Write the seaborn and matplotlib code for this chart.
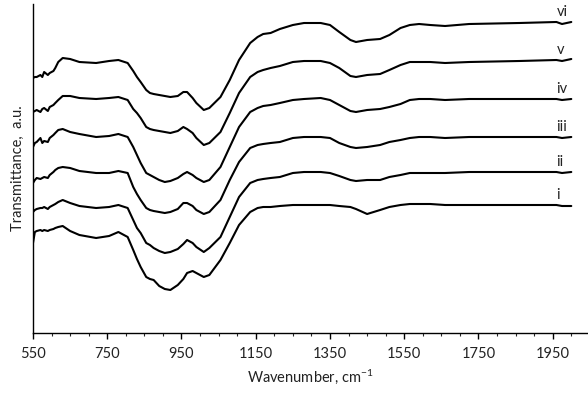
import numpy as np
import pandas as pd
import matplotlib
matplotlib.use("Agg")
import matplotlib.pyplot as plt
from matplotlib.ticker import MultipleLocator
import seaborn as sns

# Wavenumber sampling points (cm-1)
wavenumber = [550, 555, 560, 570, 575, 580, 590, 595, 605, 610,
              618, 630, 650, 675, 720, 755, 780, 805, 820, 830,
              840, 855, 865, 875, 890, 905, 920, 940, 955, 965,
              980, 990, 1010, 1025, 1055, 1080, 1105, 1135, 1155, 1170,
              1190, 1215, 1250, 1280, 1325, 1350, 1375, 1405, 1420, 1450,
              1485, 1510, 1540, 1565, 1590, 1620, 1660, 1725, 1860, 1960,
              1975, 2000]

# Transmittance (a.u., spectra stacked bottom to top)
t_i = [90, 101, 102, 103, 102, 103, 102, 103, 104, 105,
       106, 107, 102, 98, 95, 97, 101, 96, 83, 74,
       66, 56, 54, 53, 47, 44, 43, 48, 54, 60,
       62, 60, 56, 58, 73, 90, 108, 121, 125, 126,
       126, 127, 128, 128, 128, 128, 127, 126, 124, 119,
       123, 126, 128, 129, 129, 129, 128, 128, 128, 128,
       127, 127]
t_ii = [121, 123, 124, 125, 125, 126, 124, 126, 128, 129,
        131, 133, 130, 127, 125, 126, 128, 125, 113, 105,
        100, 90, 88, 85, 82, 80, 81, 84, 89, 93,
        90, 86, 81, 85, 96, 116, 136, 150, 153, 154,
        155, 156, 160, 161, 161, 160, 157, 153, 152, 153,
        153, 156, 158, 160, 160, 160, 160, 161, 161, 161,
        160, 161]
t_iii = [150, 153, 155, 154, 155, 156, 155, 158, 161, 163,
         165, 166, 165, 162, 160, 160, 162, 160, 146, 139,
         133, 125, 123, 122, 121, 120, 121, 124, 130, 130,
         127, 123, 119, 121, 133, 153, 171, 185, 188, 189,
         190, 191, 195, 196, 196, 195, 190, 186, 185, 186,
         188, 191, 193, 195, 196, 196, 195, 196, 196, 196,
         195, 196]
t_iv = [186, 190, 191, 195, 190, 192, 191, 195, 198, 200,
        203, 204, 201, 199, 196, 197, 199, 196, 186, 178,
        170, 160, 158, 156, 153, 151, 152, 155, 159, 161,
        158, 155, 151, 153, 166, 186, 206, 221, 225, 227,
        228, 230, 233, 234, 235, 233, 228, 222, 221, 223,
        224, 226, 229, 233, 234, 234, 233, 234, 234, 234,
        233, 234]
t_v = [221, 222, 223, 221, 224, 225, 222, 226, 228, 230,
       233, 237, 237, 235, 234, 235, 236, 233, 224, 220,
       215, 206, 204, 203, 202, 201, 200, 202, 206, 204,
       200, 195, 188, 190, 201, 220, 240, 256, 261, 263,
       265, 267, 271, 272, 272, 270, 265, 257, 256, 258,
       259, 263, 268, 271, 271, 271, 270, 271, 272, 273,
       272, 274]
t_vi = [255, 256, 256, 258, 256, 261, 258, 260, 262, 265,
        271, 275, 274, 271, 270, 272, 273, 270, 262, 256,
        251, 243, 240, 239, 238, 237, 236, 237, 241, 241,
        235, 230, 223, 225, 236, 253, 273, 290, 296, 299,
        300, 304, 308, 310, 310, 308, 301, 293, 291, 293,
        294, 298, 305, 308, 309, 308, 307, 309, 310, 311,
        309, 311]

sample_names = ["i", "ii", "iii", "iv", "v", "vi"]
spectra = [t_i, t_ii, t_iii, t_iv, t_v, t_vi]

frames = [pd.DataFrame({"wavenumber": wavenumber, "T": vals, "sample": name})
          for name, vals in zip(sample_names, spectra)]
df = pd.concat(frames, ignore_index=True)

sns.set_style("white")
plt.rcParams["font.family"] = ["Lato", "DejaVu Sans"]
plt.rcParams["mathtext.default"] = "regular"

fig = plt.figure(figsize=(5.88, 3.98), dpi=100)
ax = fig.add_axes([33 / 588, 65 / 398, 555 / 588, 329 / 398])

sns.lineplot(data=df, x="wavenumber", y="T", hue="sample",
             palette={n: "black" for n in sample_names}, estimator=None, sort=False,
             linewidth=1.5, legend=False, ax=ax)

# Sample labels just above the right end of each spectrum
for name, vals in zip(sample_names, spectra):
    ax.annotate(name, xy=(1960, vals[-3]), xytext=(0, 7.5), textcoords="offset points",
                ha="left", va="center", fontsize=10.5, color="#222222")

ax.set_xlim(550, 2045)
ax.set_ylim(0, 329)
ax.xaxis.set_minor_locator(MultipleLocator(50))
ax.set_xticks(np.arange(550, 2000, 200))
ax.set_yticks([])
ax.tick_params(axis="x", which="major", direction="out", length=4, width=1,
               labelsize=10.5, pad=6, bottom=True, colors="black")
ax.tick_params(axis="x", which="minor", direction="out", length=2.5, width=0.8, bottom=True)
for lab in ax.get_xticklabels():
    lab.set_color("#222222")

for side in ("top", "right"):
    ax.spines[side].set_visible(False)
for side in ("left", "bottom"):
    ax.spines[side].set_color("black")
    ax.spines[side].set_linewidth(1.0)

ax.set_xlabel("Wavenumber, cm$^{-1}$", fontsize=10.5, color="#222222", labelpad=5)
ax.set_ylabel("Transmittance,  a.u.", fontsize=10.5, color="#222222", labelpad=6)

fig.savefig("out.png", dpi=100)
